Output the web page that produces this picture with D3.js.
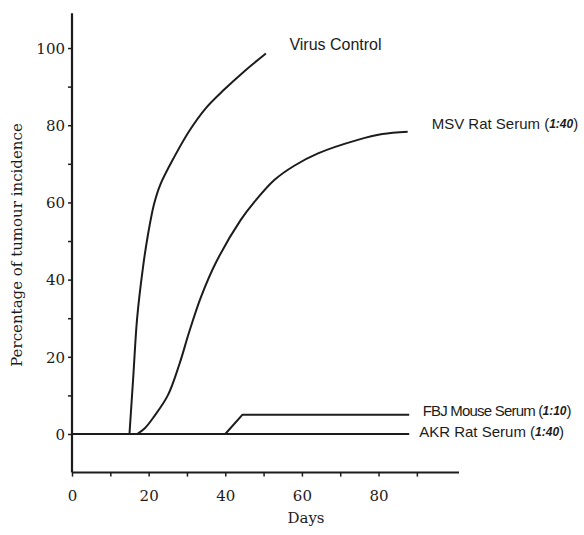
<!DOCTYPE html>
<html>
<head>
<meta charset="utf-8">
<script src="https://cdn.jsdelivr.net/npm/d3@7"></script>
<style>
  body { margin: 0; background: #fff; }
  svg { display: block; }
</style>
</head>
<body>
<svg id="chart" width="584" height="535"></svg>
<script>
// ---- data ----
const virusDays   = [15, 16, 17, 18.5, 19.8, 21.4, 23, 26.7, 30.6, 35, 39.8, 45, 50.6];
const virusValues = [0, 15, 30, 43, 51.5, 59.5, 64.5, 71.8, 78.5, 84.5, 89.3, 94, 98.6];

const msvDays   = [17, 19, 21.4, 25, 28, 30.6, 33.7, 37.6, 44, 47.5, 52.8, 58, 64.2, 74.6, 81, 87.6];
const msvValues = [0, 1.5, 4.5, 10, 18, 26.5, 35.6, 44.5, 55.4, 60, 65.8, 69.5, 72.7, 76.2, 77.7, 78.3];

const fbjDays   = [0, 40, 44.5, 88];
const fbjValues = [0, 0, 5, 5];

const akrDays   = [0, 88];
const akrValues = [0, 0];

const seriesNames  = ["Virus Control", "MSV Rat Serum", "FBJ Mouse Serum", "AKR Rat Serum"];
const seriesRatios = [null, "1:40", "1:10", "1:40"];

const xTickLabels = [0, 20, 40, 60, 80];
const yTickLabels = [0, 20, 40, 60, 80, 100];
const xMinorTicks = [10, 30, 50, 70, 90];
const yMinorTicks = [10, 30, 50, 70, 90];

const xTitle = "Days";
const yTitle = "Percentage of tumour incidence";

// ---- layout ----
const svg = d3.select("#chart");
const X0 = 72, X1 = 459, YB = 472.6, YT = 13.3;
const x = d3.scaleLinear().domain([0, 101]).range([X0, X1]);
const y = d3.scaleLinear().domain([-10, 109]).range([YB, YT]);
const ink = "#1c1c1c";
const serif = "'DejaVu Serif', serif";
const sans = "'Liberation Sans', Arial, sans-serif";

// y axis
const yAxis = d3.axisLeft(y).tickValues(yTickLabels.concat(yMinorTicks))
  .tickSize(4).tickSizeOuter(0).tickFormat(d => yTickLabels.includes(d) ? d : "");
const gy = svg.append("g").attr("transform", `translate(${X0},0)`).call(yAxis);
gy.select(".domain").attr("stroke", ink).attr("stroke-width", 2.2)
  .attr("d", `M0,${YB}V${YT}`);
gy.selectAll(".tick line").attr("stroke", ink).attr("stroke-width", 1.5);
gy.selectAll(".tick text").attr("font-family", serif).attr("font-size", 15)
  .attr("fill", ink).attr("x", -7).attr("dy", "0.35em");

// x axis (at y = -10)
const xAxis = d3.axisBottom(x).tickValues(xTickLabels.concat(xMinorTicks))
  .tickSize(4).tickSizeOuter(0).tickFormat(d => xTickLabels.includes(d) ? d : "");
const gx = svg.append("g").attr("transform", `translate(0,${YB})`).call(xAxis);
gx.select(".domain").attr("stroke", ink).attr("stroke-width", 2)
  .attr("d", `M${X0},0H${X1}`);
gx.selectAll(".tick line").attr("stroke", ink).attr("stroke-width", 1.5);
gx.selectAll(".tick text").attr("font-family", serif).attr("font-size", 15)
  .attr("fill", ink).attr("y", 18).attr("dy", "0.71em");

// titles
svg.append("text").attr("x", 306).attr("y", 523).attr("text-anchor", "middle")
  .attr("font-family", serif).attr("font-size", 15).attr("fill", ink).text(xTitle);
svg.append("text").attr("transform", "translate(22,245) rotate(-90)")
  .attr("text-anchor", "middle").attr("font-family", serif).attr("font-size", 15)
  .attr("fill", ink).text(yTitle);

// series (label offsets / styles only)
const series = [
  { days: akrDays, vals: akrValues, curve: d3.curveLinear, dx: 10, dy: -1.5, fs: 15, ls: 0, name: 3 },
  { days: fbjDays, vals: fbjValues, curve: d3.curveLinear, dx: 13.5, dy: -3, fs: 15, ls: -0.8, name: 2 },
  { days: msvDays, vals: msvValues, curve: d3.curveCatmullRom.alpha(0.5), dx: 24, dy: -7, fs: 15, ls: 0, name: 1 },
  { days: virusDays, vals: virusValues, curve: d3.curveCatmullRom.alpha(0.5), dx: 23.5, dy: -7, fs: 16, ls: 0, name: 0 }
];

series.forEach(s => {
  const pts = s.days.map((d, k) => [d, s.vals[k]]);
  const line = d3.line().x(p => x(p[0])).y(p => y(p[1])).curve(s.curve);
  svg.append("path").attr("d", line(pts)).attr("fill", "none")
    .attr("stroke", ink).attr("stroke-width", 2).attr("stroke-linejoin", "round");
  const last = pts[pts.length - 1];
  const ni = s.name;
  const t = svg.append("text").attr("x", x(last[0]) + s.dx).attr("y", y(last[1]) + s.dy)
    .attr("font-family", sans).attr("font-size", s.fs).attr("fill", ink)
    .attr("dominant-baseline", "middle");
  t.append("tspan").attr("letter-spacing", s.ls)
    .text(seriesNames[ni] + (seriesRatios[ni] ? " (" : ""));
  if (seriesRatios[ni]) {
    t.append("tspan").attr("font-style", "italic").attr("font-weight", "bold")
      .attr("font-size", 12).text(seriesRatios[ni]);
    t.append("tspan").text(")");
  }
});
</script>
</body>
</html>
